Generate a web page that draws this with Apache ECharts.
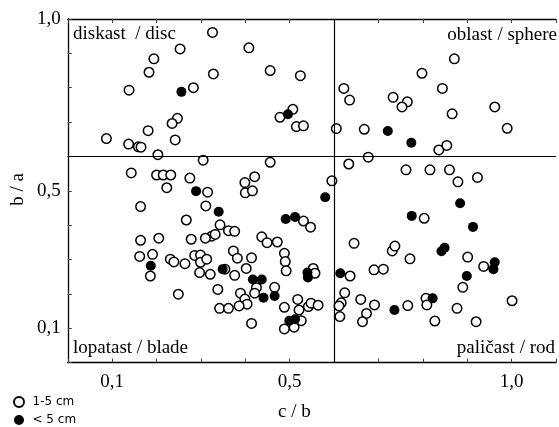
<!DOCTYPE html>
<html>
<head>
<meta charset="utf-8">
<script src="https://cdn.jsdelivr.net/npm/echarts@6/dist/echarts.min.js"></script>
<style>html,body{margin:0;padding:0;background:#fff;}#c{width:559px;height:427px;}</style>
</head>
<body>
<div id="c"></div>
<script>
// c/b (x) and b/a (y) values
const openPoints = [
 [0.326,0.961],[0.253,0.913],[0.408,0.916],[0.194,0.884],[0.183,0.845],[0.328,0.840],[0.456,0.850],
 [0.138,0.793],[0.283,0.800],[0.247,0.711],[0.235,0.696],[0.181,0.675],[0.087,0.652],[0.137,0.636],
 [0.159,0.628],[0.165,0.627],[0.242,0.648],[0.203,0.605],[0.305,0.589],[0.456,0.583],[0.143,0.552],
 [0.200,0.546],[0.215,0.546],[0.232,0.546],[0.223,0.509],[0.275,0.537],[0.315,0.496],[0.399,0.524],
 [0.421,0.541],[0.400,0.494],[0.416,0.500],
 [0.871,0.884],[0.798,0.842],[0.844,0.798],[0.524,0.835],[0.622,0.798],[0.635,0.764],[0.733,0.772],
 [0.765,0.759],[0.753,0.744],[0.962,0.744],[0.866,0.724],[0.990,0.682],[0.478,0.714],[0.507,0.737],
 [0.515,0.687],[0.531,0.689],[0.605,0.681],[0.668,0.679],[0.836,0.619],[0.854,0.632],[0.633,0.578],
 [0.677,0.598],[0.762,0.561],[0.816,0.561],[0.860,0.561],[0.879,0.526],[0.923,0.539],[0.595,0.529],
 [0.164,0.454],[0.267,0.415],[0.311,0.456],[0.343,0.401],[0.324,0.368],[0.332,0.373],[0.362,0.384],
 [0.376,0.382],[0.164,0.356],[0.205,0.362],[0.278,0.359],[0.310,0.362],[0.437,0.366],[0.449,0.349],
 [0.472,0.351],[0.162,0.309],[0.191,0.315],[0.186,0.252],[0.231,0.301],[0.239,0.293],[0.264,0.288],
 [0.286,0.312],[0.299,0.313],[0.299,0.292],[0.313,0.301],[0.297,0.262],[0.321,0.257],[0.354,0.272],
 [0.373,0.325],[0.382,0.304],[0.414,0.305],[0.402,0.274],[0.376,0.254],[0.425,0.218],[0.249,0.199],
 [0.338,0.213],[0.389,0.202],[0.399,0.185],[0.404,0.170],[0.386,0.165],[0.421,0.202],[0.342,0.158],
 [0.362,0.158],[0.414,0.114],[0.466,0.219],
 [0.531,0.412],[0.547,0.394],[0.488,0.318],[0.490,0.294],[0.492,0.267],[0.553,0.274],[0.557,0.260],
 [0.488,0.161],[0.518,0.184],[0.521,0.153],[0.542,0.163],[0.548,0.173],[0.564,0.167],[0.526,0.122],
 [0.488,0.098],[0.510,0.103],[0.645,0.347],[0.636,0.252],[0.690,0.270],[0.711,0.272],[0.731,0.325],
 [0.737,0.339],[0.771,0.302],[0.803,0.420],[0.901,0.307],[0.937,0.280],[0.890,0.219],[1.001,0.180],
 [0.624,0.203],[0.616,0.174],[0.611,0.165],[0.613,0.134],[0.660,0.184],[0.691,0.168],[0.673,0.143],
 [0.664,0.119],[0.766,0.166],[0.807,0.187],[0.809,0.168],[0.877,0.158],[0.827,0.121],[0.920,0.119]
];
const filledPoints = [
 [0.256,0.788],[0.289,0.499],[0.496,0.723],[0.721,0.674],[0.774,0.640],[0.580,0.481],[0.340,0.439],
 [0.187,0.282],[0.349,0.272],[0.417,0.242],[0.437,0.242],[0.441,0.189],[0.466,0.194],[0.491,0.418],
 [0.512,0.424],[0.540,0.262],[0.541,0.248],[0.499,0.122],[0.512,0.126],[0.614,0.260],[0.775,0.427],
 [0.884,0.464],[0.913,0.395],[0.842,0.324],[0.849,0.334],[0.962,0.292],[0.959,0.272],[0.899,0.252],
 [0.736,0.153],[0.822,0.187]
];
const seriesNames = ['1-5 cm', '< 5 cm'];
const xLabelValues = [0.1, 0.5, 1.0];
const xLabelTexts = ['0,1', '0,5', '1,0'];
const yLabelValues = [0.1, 0.5, 1.0];
const yLabelTexts = ['0,1', '0,5', '1,0'];
const dividerX = 0.6;
const dividerY = 0.6;
const regionNames = ['diskast  / disc', 'oblast / sphere', 'lopatast / blade', 'paličast / rod'];
const axisNames = ['c / b', 'b / a'];

function labelFor(vals, texts) {
  return function (v) {
    for (let i = 0; i < vals.length; i++) if (Math.abs(v - vals[i]) < 1e-6) return texts[i];
    return '';
  };
}
const serif = 'Liberation Serif';
const chart = echarts.init(document.getElementById('c'), null, {renderer: 'canvas'});
const axisLine = {show: true, lineStyle: {color: '#000', width: 1.3}};
const axisTick = {show: true, inside: true, length: 4, lineStyle: {color: '#444', width: 1}};
const lf = '19px "Liberation Serif"';
chart.setOption({
  animation: false,
  backgroundColor: '#fff',
  grid: {left: 67.8, right: -9.3, top: 19, bottom: 64.4},
  xAxis: [{
    type: 'value', min: 0, max: 1.1, interval: 0.1, position: 'bottom',
    axisLine: axisLine, axisTick: axisTick, splitLine: {show: false},
    axisLabel: {formatter: labelFor(xLabelValues, xLabelTexts), margin: 10,
      fontFamily: serif, fontSize: 19, color: '#000'}
  }, {
    type: 'value', min: 0, max: 1.1, interval: 0.1, position: 'top',
    axisLine: axisLine, axisTick: axisTick, splitLine: {show: false}, axisLabel: {show: false}
  }],
  yAxis: [{
    type: 'value', min: 0, max: 1, interval: 0.1,
    axisLine: axisLine, axisTick: axisTick, splitLine: {show: false},
    axisLabel: {formatter: labelFor(yLabelValues, yLabelTexts), margin: 7,
      fontFamily: serif, fontSize: 19, color: '#000'}
  }],
  legend: {
    orient: 'vertical', left: 13, top: 395, bottom: 0, itemWidth: 17, itemHeight: 10, itemGap: 4,
    padding: 0, icon: 'circle', data: seriesNames,
    textStyle: {fontFamily: 'DejaVu Sans', fontSize: 12, color: '#000', lineHeight: 14}
  },
  graphic: [
    {type: 'text', left: 73, top: 25, style: {text: regionNames[0], font: lf, fill: '#000'}},
    {type: 'text', right: 2, top: 26, style: {text: regionNames[1], font: lf, fill: '#000'}},
    {type: 'text', left: 73, top: 339, style: {text: regionNames[2], font: lf, fill: '#000'}},
    {type: 'text', right: 4, top: 339, style: {text: regionNames[3], font: lf, fill: '#000'}},
    {type: 'text', left: 278, top: 403, style: {text: axisNames[0], font: lf, fill: '#000'}},
    {type: 'text', left: 9, top: 173, rotation: Math.PI / 2, style: {text: axisNames[1], font: lf, fill: '#000'}}
  ],
  series: [{
    name: seriesNames[0], type: 'scatter', data: openPoints, symbol: 'circle', symbolSize: 9.5,
    itemStyle: {color: '#fff', borderColor: '#000', borderWidth: 1.5, opacity: 1},
    markLine: {
      silent: true, symbol: 'none', label: {show: false},
      lineStyle: {color: '#000', width: 1.2, type: 'solid'},
      data: [{xAxis: dividerX}, {yAxis: dividerY}]
    }
  }, {
    name: seriesNames[1], type: 'scatter', data: filledPoints, symbol: 'circle', symbolSize: 10,
    itemStyle: {color: '#000', borderColor: '#000', borderWidth: 0, opacity: 1}
  }]
});
</script>
</body>
</html>
